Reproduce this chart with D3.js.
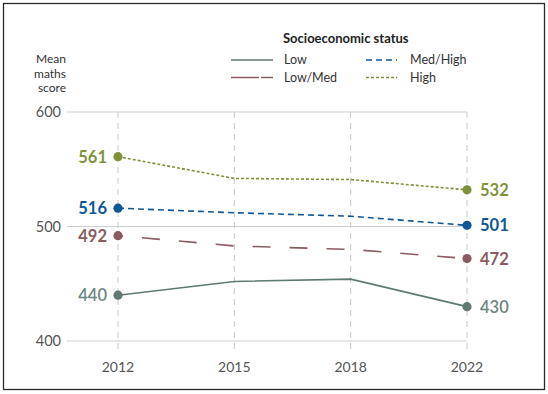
<!DOCTYPE html>
<html>
<head>
<meta charset="utf-8">
<script src="https://cdn.jsdelivr.net/npm/d3@7"></script>
<style>
  body { margin: 0; background: #fff; }
  svg { display: block; font-family: Lato, "Open Sans", sans-serif; }
</style>
</head>
<body>
<div id="chart"></div>
<script>
// years on the x axis
const years = ["2012", "2015", "2018", "2022"];
// mean maths score per socioeconomic group
const lowScores = [440, 452, 454, 430];
const lowMedScores = [492, 483, 480, 472];
const medHighScores = [516, 512, 509, 501];
const highScores = [561, 542, 541, 532];
const yTicks = [400, 500, 600];

const width = 548;
const height = 394;

const series = [
  { name: "Low", values: lowScores, color: "#5e7a71", text: "#6e8580", dash: null, weight: 600 },
  { name: "Low/Med", values: lowMedScores, color: "#8a5b60", text: "#8a5b60", dash: "18,19", offset: 13, weight: 700 },
  { name: "Med/High", values: medHighScores, color: "#0e5796", text: "#0e5796", dash: "6,4", weight: 700 },
  { name: "High", values: highScores, color: "#7f923a", text: "#7f923a", dash: "3,2", weight: 700 }
];

const svg = d3.select("#chart")
  .append("svg")
  .attr("width", width)
  .attr("height", height);

// frame
svg.append("rect")
  .attr("x", 3.5).attr("y", 3.5)
  .attr("width", 541).attr("height", 386)
  .attr("fill", "none")
  .attr("stroke", "#2b2b2b")
  .attr("stroke-width", 1.3);

const x = d3.scalePoint().domain(years).range([118, 467]);
const y = d3.scaleLinear().domain([400, 600]).range([341, 112]);

// horizontal gridlines
svg.selectAll(".hgrid")
  .data(yTicks)
  .enter()
  .append("line")
  .attr("x1", 67).attr("x2", x("2022"))
  .attr("y1", d => y(d)).attr("y2", d => y(d))
  .attr("stroke", "#cfcfcf")
  .attr("stroke-width", 1);

// vertical dashed gridlines
svg.selectAll(".vgrid")
  .data(years)
  .enter()
  .append("line")
  .attr("x1", d => x(d)).attr("x2", d => x(d))
  .attr("y1", y(600)).attr("y2", 352)
  .attr("stroke", "#c8c8c8")
  .attr("stroke-width", 1)
  .attr("stroke-dasharray", "6,5");

// y tick labels
svg.selectAll(".ylab")
  .data(yTicks)
  .enter()
  .append("text")
  .attr("x", 61)
  .attr("y", d => y(d))
  .attr("dy", "0.35em")
  .attr("text-anchor", "end")
  .attr("font-size", 14.5)
  .attr("fill", "#555")
  .text(d => d);

// x tick labels
svg.selectAll(".xlab")
  .data(years)
  .enter()
  .append("text")
  .attr("x", d => x(d))
  .attr("y", 372)
  .attr("text-anchor", "middle")
  .attr("font-size", 14)
  .attr("fill", "#555")
  .text(d => d);

// axis title
["Mean", "maths", "score"].forEach((t, i) => {
  svg.append("text")
    .attr("x", 66)
    .attr("y", 63 + i * 14.5)
    .attr("text-anchor", "end")
    .attr("font-size", 12)
    .attr("fill", "#333")
    .text(t);
});

// lines
const line = d3.line()
  .x((d, i) => x(years[i]))
  .y(d => y(d));

series.forEach(s => {
  svg.append("path")
    .datum(s.values)
    .attr("fill", "none")
    .attr("stroke", s.color)
    .attr("stroke-width", 1.6)
    .attr("stroke-dasharray", s.dash)
    .attr("stroke-dashoffset", s.offset || 0)
    .attr("d", line);

  const ends = [0, years.length - 1];
  svg.selectAll(null)
    .data(ends)
    .enter()
    .append("circle")
    .attr("cx", i => x(years[i]))
    .attr("cy", i => y(s.values[i]))
    .attr("r", 4.6)
    .attr("fill", s.color);

  svg.selectAll(null)
    .data(ends)
    .enter()
    .append("text")
    .attr("x", i => i === 0 ? x(years[i]) - 11 : x(years[i]) + 13)
    .attr("y", i => y(s.values[i]))
    .attr("dy", "0.36em")
    .attr("text-anchor", i => i === 0 ? "end" : "start")
    .attr("font-size", 16.5)
    .attr("font-weight", s.weight)
    .attr("fill", s.text)
    .text(i => s.values[i]);
});

// legend
svg.append("text")
  .attr("x", 283)
  .attr("y", 43)
  .attr("font-size", 13)
  .attr("font-weight", 700)
  .attr("fill", "#222")
  .text("Socioeconomic status");

const legendPos = [
  { x: 231, y: 60 },
  { x: 231, y: 77.5 },
  { x: 366, y: 60 },
  { x: 366, y: 77.5 }
];

series.forEach((s, i) => {
  const p = legendPos[i];
  const len = i < 2 ? 42 : 31;
  svg.append("line")
    .attr("x1", p.x).attr("x2", p.x + len)
    .attr("y1", p.y).attr("y2", p.y)
    .attr("stroke", s.color)
    .attr("stroke-width", 1.6)
    .attr("stroke-dasharray", i === 1 ? "28,2" : s.dash);
  svg.append("text")
    .attr("x", p.x + (i < 2 ? 53 : 44))
    .attr("y", p.y)
    .attr("dy", "0.35em")
    .attr("font-size", 12.5)
    .attr("fill", "#333")
    .text(s.name);
});
</script>
</body>
</html>
